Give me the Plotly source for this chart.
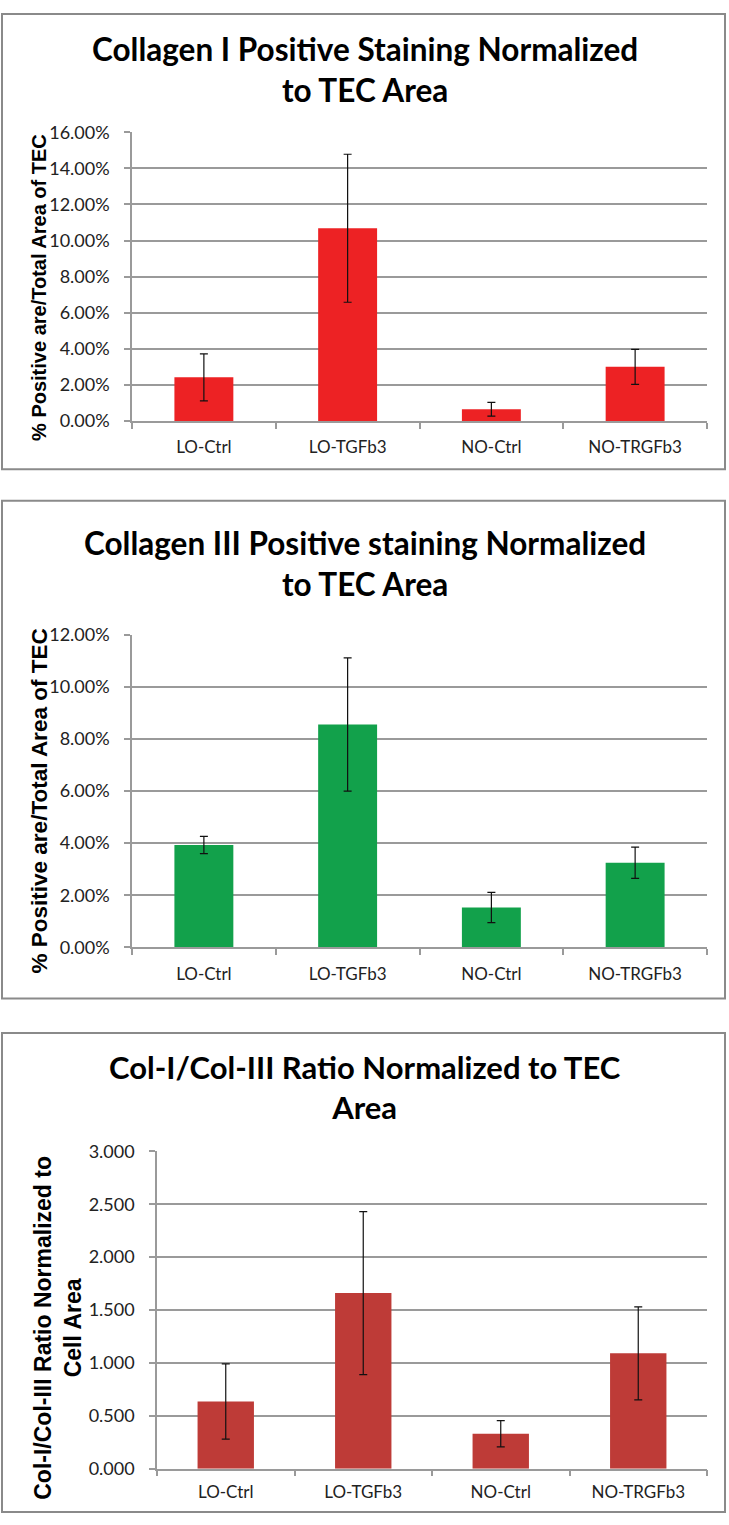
import plotly.graph_objects as go

W, H = 729, 1525

groups = ['LO-Ctrl', 'LO-TGFb3', 'NO-Ctrl', 'NO-TRGFb3']

col1_mean = [0.0242, 0.1068, 0.0065, 0.0300]
col1_err = [0.0130, 0.0410, 0.0038, 0.0097]

col3_mean = [0.0393, 0.0856, 0.0153, 0.0325]
col3_err = [0.0033, 0.0256, 0.0058, 0.0060]

ratio_mean = [0.635, 1.660, 0.330, 1.090]
ratio_err = [0.355, 0.770, 0.124, 0.440]

TITLE_FONT = 'Lato, sans-serif'
TICK_FONT = 'Lato, sans-serif'
AX_FONT = 'Liberation Sans, Arial, sans-serif'
GRID = '#9a9a9a'


def px_x(p):
    return p / W


def px_y(p):
    return 1 - p / H


fig = go.Figure()

panels = [
    # mean, err, colour, y range, tickformat, dtick, left px, top px, bottom px, label standoff
    (col1_mean, col1_err, '#ED2224', [0, 0.16], '.2%', 0.02, 132, 122, 415, 10),
    (col3_mean, col3_err, '#12A14B', [0, 0.12], '.2%', 0.02, 132, 632, 949, 11),
    (ratio_mean, ratio_err, '#BE3B37', [0, 3.0], '.3f', 0.5, 157, 1156, 1478, 7),
]

for i, (m, e, c, rng, fmt, dt, x0, yt, yb, so) in enumerate(panels, start=1):
    sfx = '' if i == 1 else str(i)
    fig.add_trace(go.Bar(
        x=groups, y=m,
        marker=dict(color=c, line=dict(width=0)),
        error_y=dict(type='data', array=e, color='#111111', thickness=1.2, width=4),
        xaxis='x' + sfx, yaxis='y' + sfx,
        showlegend=False,
    ))
    fig.layout['xaxis' + sfx] = dict(
        domain=[px_x(x0), px_x(707)], anchor='y' + sfx,
        showline=True, linecolor=GRID, linewidth=1.5,
        ticks='outside', tickson='boundaries', ticklen=6, tickcolor=GRID, tickwidth=1.5,
        tickfont=dict(family=TICK_FONT, size=17, color='#222222'),
        ticklabelstandoff=so,
        showgrid=False,
    )
    fig.layout['yaxis' + sfx] = dict(
        domain=[px_y(yb), px_y(yt)], anchor='x' + sfx,
        range=rng, dtick=dt, tickformat=fmt,
        showline=True, linecolor=GRID, linewidth=1.5,
        ticks='outside', ticklen=6, tickcolor=GRID, tickwidth=1.5,
        tickfont=dict(family=TICK_FONT, size=18, color='#222222'),
        ticklabelstandoff=11,
        showgrid=True, gridcolor=GRID, gridwidth=1.5,
        zeroline=False,
    )

fig.update_layout(bargap=0.59)

# panel frames
frames = [(2, 464), (496, 1001), (1036, 1522)]
shapes = []
for top, bot in frames:
    shapes.append(dict(type='rect', xref='paper', yref='paper',
                       x0=px_x(2), x1=px_x(725), y0=px_y(bot), y1=px_y(top),
                       line=dict(color='#8a8a8a', width=2)))

titles = [
    ('Collagen I Positive Staining Normalized<br>to TEC Area', 58, 31.5),
    ('Collagen III Positive staining Normalized<br>to TEC Area', 560, 31.5),
    ('Col-I/Col-III Ratio Normalized to TEC<br>Area', 1091, 31),
]
ann = []
for txt, yc, sz in titles:
    ann.append(dict(text='<b>' + txt + '</b>', xref='paper', yref='paper',
                    x=0.5, y=px_y(yc), xanchor='center', yanchor='middle',
                    showarrow=False, font=dict(family=TITLE_FONT, size=sz, color='#000000')))

ytitles = [
    ('% Positive are/Total Area of TEC', 39, 280, 20),
    ('% Positive are/Total Area of TEC', 39, 801, 22.5),
    ('Col-I/Col-III Ratio Normalized to<br>Cell Area', 58, 1335, 23),
]
for txt, xc, yc, sz in ytitles:
    ann.append(dict(text='<b>' + txt + '</b>', xref='paper', yref='paper',
                    x=px_x(xc), y=px_y(yc), xanchor='center', yanchor='middle',
                    textangle=-90, showarrow=False,
                    font=dict(family=AX_FONT, size=sz, color='#000000')))

fig.update_layout(
    width=W, height=H,
    margin=dict(l=0, r=0, t=0, b=0),
    paper_bgcolor='white', plot_bgcolor='white',
    shapes=shapes, annotations=ann,
)

fig.write_html('out.html', config={'displayModeBar': False},
               post_script="document.body.style.margin='0px';")
